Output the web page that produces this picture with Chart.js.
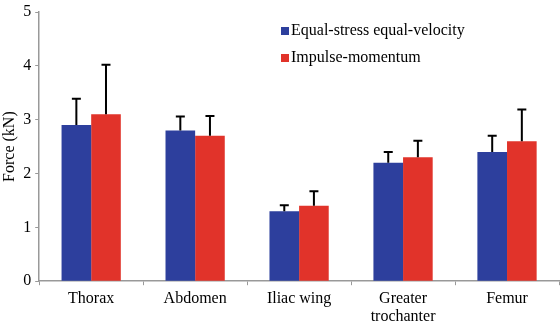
<!DOCTYPE html>
<html><head><meta charset="utf-8">
<script src="https://cdn.jsdelivr.net/npm/chart.js@4/dist/chart.umd.min.js"></script>
<style>html,body{margin:0;padding:0;background:#fff;}</style>
</head><body><canvas id="c" width="560" height="327"></canvas>
<script>
const categories = ["Thorax", "Abdomen", "Iliac wing", ["Greater", "trochanter"], "Femur"];
const seriesNames = ["Equal-stress equal-velocity", "Impulse-momentum"];
const equalStress = [2.9, 2.8, 1.3, 2.2, 2.4];
const equalStressErr = [0.49, 0.26, 0.11, 0.2, 0.3];
const impulse = [3.1, 2.7, 1.4, 2.3, 2.6];
const impulseErr = [0.92, 0.37, 0.27, 0.31, 0.59];
const yTicks = [0, 1, 2, 3, 4, 5];

const FONT = '"Liberation Serif", "Times New Roman", serif';
const errs = [equalStressErr, impulseErr];

const errorBarPlugin = {
  id: 'errorBars',
  afterDatasetsDraw(chart) {
    const ctx = chart.ctx;
    const y = chart.scales.y;
    ctx.save();
    ctx.strokeStyle = '#000';
    ctx.lineWidth = 2;
    chart.data.datasets.forEach((ds, di) => {
      const meta = chart.getDatasetMeta(di);
      meta.data.forEach((bar, i) => {
        const top = y.getPixelForValue(ds.data[i] + errs[di][i]);
        ctx.beginPath();
        ctx.moveTo(bar.x, bar.y);
        ctx.lineTo(bar.x, top);
        ctx.moveTo(bar.x - 4.5, top);
        ctx.lineTo(bar.x + 4.5, top);
        ctx.stroke();
      });
    });
    ctx.restore();
  }
};

const legendPlugin = {
  id: 'customLegend',
  beforeDatasetsDraw(chart) {
    const ctx = chart.ctx;
    const h = Chart.helpers;
    const f = h.toFont({ family: FONT, size: 16, style: 'normal', weight: null, lineHeight: 1.2 });
    chart.data.datasets.forEach((ds, i) => {
      const x = 281, yy = 31 + i * 27;
      ctx.save();
      ctx.fillStyle = ds.backgroundColor;
      ctx.fillRect(x, yy - 4, 8, 8);
      ctx.restore();
      h.renderText(ctx, ds.label, x + 10, yy, f, { color: '#000', textAlign: 'left', textBaseline: 'middle' });
    });
  }
};

new Chart(document.getElementById('c'), {
  type: 'bar',
  data: {
    labels: categories,
    datasets: [
      { label: seriesNames[0], data: equalStress, backgroundColor: '#2D3F9D', borderWidth: 0 },
      { label: seriesNames[1], data: impulse, backgroundColor: '#E1332A', borderWidth: 0 }
    ]
  },
  options: {
    responsive: false,
    animation: false,
    devicePixelRatio: 1,
    layout: { padding: { top: -9, right: 1, left: 0, bottom: -3 } },
    categoryPercentage: 0.57,
    barPercentage: 1.0,
    plugins: { legend: { display: false }, tooltip: { enabled: false } },
    scales: {
      x: {
        grid: { display: true, offset: true, drawOnChartArea: false, drawTicks: true, tickLength: 4, color: '#999', lineWidth: 1 },
        border: { display: true, color: '#999', width: 1.5 },
        ticks: { color: '#000', font: { family: FONT, size: 16, lineHeight: 1.15 }, padding: 4, maxRotation: 0, autoSkip: false }
      },
      y: {
        min: 0, max: 5,
        afterBuildTicks(scale) { scale.ticks = yTicks.map(v => ({ value: v })); },
        grid: { display: true, drawOnChartArea: false, drawTicks: true, tickLength: 4, color: '#999' },
        border: { display: true, color: '#999', width: 1.5 },
        ticks: { color: '#000', font: { family: FONT, size: 16, lineHeight: 1.0 }, padding: 4 },
        title: { display: true, text: 'Force (kN)', color: '#000', font: { family: FONT, size: 16 }, padding: 0 }
      }
    }
  },
  plugins: [errorBarPlugin, legendPlugin]
});
</script></body></html>
